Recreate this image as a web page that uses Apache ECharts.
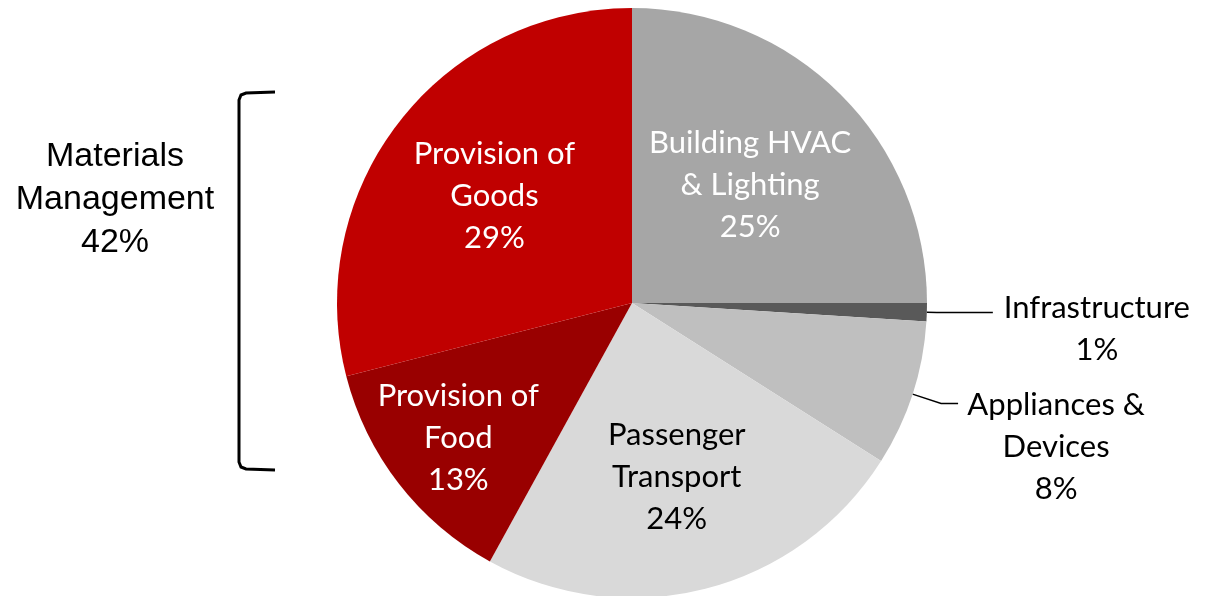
<!DOCTYPE html>
<html>
<head>
<meta charset="utf-8">
<script src="https://cdn.jsdelivr.net/npm/echarts@6/dist/echarts.min.js"></script>
<style>
  html, body { margin: 0; padding: 0; background: #fff; }
  #main { width: 1205px; height: 596px; }
</style>
</head>
<body>
<div id="main"></div>
<script>
// data, clockwise from 12 o'clock
var names = ['Building HVAC & Lighting', 'Infrastructure', 'Appliances & Devices', 'Passenger Transport', 'Provision of Food', 'Provision of Goods'];
var labelText = ['Building HVAC\n& Lighting', 'Infrastructure', 'Appliances &\nDevices', 'Passenger\nTransport', 'Provision of\nFood', 'Provision of\nGoods'];
var values = [25, 1, 8, 24, 13, 29];
var groupName = 'Materials\nManagement';
var groupMembers = [4, 5]; // food + goods

var colors = ['#a6a6a6', '#595959', '#bfbfbf', '#d9d9d9', '#990000', '#c00000'];
var textColors = ['#fff', '#000', '#000', '#000', '#fff', '#fff'];
// radial position of inside labels (fraction of radius), null = outside
var labelRadius = [0.556, null, null, 0.6, 0.735, 0.58];

var R = 295;
var total = values.reduce(function (a, b) { return a + b; }, 0);
var groupPct = groupMembers.reduce(function (s, i) { return s + values[i]; }, 0);

function midAngle(i) {
  var before = 0;
  for (var j = 0; j < i; j++) before += values[j];
  return (before + values[i] / 2) / total * Math.PI * 2;
}

var FONT = 'Lato';
var FS = 31;

var seriesData = values.map(function (v, i) {
  var item = {
    name: names[i],
    value: v,
    itemStyle: { color: colors[i] }
  };
  if (labelRadius[i] == null) {
    // outside labels
    var w = i === 1 ? 198 : 186;
    var pad = i === 1 ? 33 : 88;
    var lines = (labelText[i] + '\n' + v + '%').split('\n');
    item.label = {
      position: 'outside',
      padding: [pad, 0, 0, 0],
      formatter: lines.map(function (s) { return '{a|' + s + '}'; }).join('\n'),
      rich: {
        a: { width: w, align: 'center', fontFamily: FONT, fontSize: FS, lineHeight: 42, color: '#000' }
      }
    };
    item.labelLine = i === 1 ? { length: 10, length2: 56 } : { length: 30, length2: 17 };
  } else {
    item.label = {
      position: 'inside',
      color: textColors[i],
      formatter: labelText[i] + '\n' + v + '%'
    };
  }
  return item;
});

var chart = echarts.init(document.getElementById('main'));
var option = {
  backgroundColor: '#fff',
  animation: false,
  graphic: [
    {
      type: 'text',
      x: 115,
      y: 200,
      style: {
        text: groupName + '\n' + groupPct + '%',
        align: 'center',
        verticalAlign: 'middle',
        fontFamily: 'Liberation Sans',
        fontSize: 34,
        lineHeight: 43,
        fill: '#000'
      }
    },
    {
      type: 'polyline',
      shape: {
        points: [[275, 92], [246, 93], [241, 95], [239, 100], [239, 462], [241, 467], [246, 469], [275, 470]]
      },
      style: { fill: null, stroke: '#000', lineWidth: 3 }
    }
  ],
  series: [{
    type: 'pie',
    center: [632, 303],
    radius: R,
    startAngle: 90,
    clockwise: true,
    avoidLabelOverlap: false,
    itemStyle: { borderWidth: 0 },
    label: {
      fontFamily: FONT,
      fontSize: FS,
      lineHeight: 42,
      align: 'center'
    },
    labelLine: {
      lineStyle: { color: '#000', width: 1.5 }
    },
    emphasis: { disabled: true },
    labelLayout: function (p) {
      var k = labelRadius[p.dataIndex];
      if (k == null) return {};
      var a = midAngle(p.dataIndex);
      var d = (k - 0.5) * R;
      return { dx: d * Math.sin(a), dy: -d * Math.cos(a) };
    },
    data: seriesData
  }]
};
chart.setOption(option);
</script>
</body>
</html>
